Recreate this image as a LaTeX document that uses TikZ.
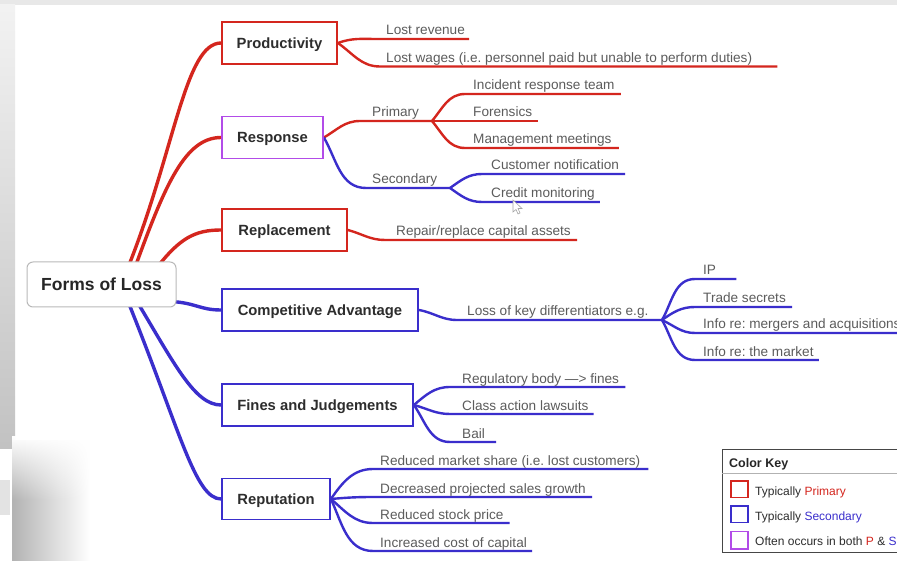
\documentclass[tikz,border=0pt]{standalone}
\usepackage{fontspec}
\setmainfont{Liberation Sans}
\usetikzlibrary{backgrounds,fadings}
\frenchspacing

\definecolor{lossred}{RGB}{212,38,30}
\definecolor{lossblue}{RGB}{58,46,204}
\definecolor{losspurple}{RGB}{178,76,232}
\definecolor{leafgray}{RGB}{92,92,92}
\definecolor{boxtext}{RGB}{45,45,45}

\tikzset{
  rootbox/.style={draw=gray!55, line width=1pt, rounded corners=6pt, fill=white,
    minimum width=149pt, minimum height=45pt, inner sep=0pt,
    text height=12.6pt, text depth=0pt,
    font=\fontsize{17.5}{20}\selectfont\bfseries, text=black!85},
  topic/.style={draw=#1, line width=1.8pt, fill=white, minimum height=42pt,
    inner sep=0pt, text height=10.7pt, text depth=0pt,
    font=\fontsize{14.8}{17}\selectfont\bfseries, text=boxtext},
  leaf/.style={anchor=base west, inner sep=0pt,
    font=\fontsize{13.6}{16}\selectfont, text=leafgray},
  keytext/.style={anchor=base west, inner sep=0pt,
    font=\fontsize{12}{14}\selectfont, text=boxtext},
  trunk/.style={draw=#1, line width=3.4pt},
  twig/.style={draw=#1, line width=2.4pt},
  keysquare/.style={draw=#1, line width=1.7pt},
}

\begin{document}
\begin{tikzpicture}[x=1pt,y=1pt]
\clip (0,0) rectangle (897,-561);

% page backdrop and the grey screen edges
\begin{scope}[on background layer]
  \fill[white] (0,0) rectangle (897,-561);
  \fill[gray!18] (0,0) rectangle (897,-5);
  \shade[top color=gray!10, bottom color=gray!48] (0,-5) rectangle (15,-448);
  \fill[gray!22] (0,-480) rectangle (10,-515);
  \shade[left color=gray!60, right color=white] (12,-440) rectangle (90,-561);
  \fill[white, path fading=south] (12,-436) rectangle (92,-500);
\end{scope}

% central topic
\node[rootbox] (root) at (101.5,-284.5) {Forms of Loss};

% main branches
\node[topic=lossred,    minimum width=115pt] (prod)  at (279.5,-43)   {Productivity};
\node[topic=losspurple, minimum width=101pt] (resp)  at (272.5,-137.5){Response};
\node[topic=lossred,    minimum width=125pt] (repl)  at (284.5,-230)  {Replacement};
\node[topic=lossblue,   minimum width=196pt] (comp)  at (320,-310)    {Competitive Advantage};
\node[topic=lossblue,   minimum width=191pt] (fines) at (317.5,-405)  {Fines and Judgements};
\node[topic=lossblue,   minimum width=108pt, minimum height=41pt] (rep) at (276,-499) {Reputation};

% leaves
\node[leaf] (lrev)  at (386,-35)   {Lost revenue};
\node[leaf] (lwag)  at (386,-62.5) {Lost wages (i.e. personnel paid but unable to perform duties)};

\node[leaf] (pri)   at (372,-117)  {Primary};
\node[leaf] (inc)   at (473,-90)   {Incident response team};
\node[leaf] (fore)  at (473,-117)  {Forensics};
\node[leaf] (mgmt)  at (473,-144)  {Management meetings};
\node[leaf] (sec)   at (372,-184)  {Secondary};
\node[leaf] (cust)  at (491,-170)  {Customer notification};
\node[leaf] (cred)  at (491,-198)  {Credit monitoring};

\node[leaf] (repair) at (396,-236) {Repair/replace capital assets};

\node[leaf] (loss)  at (467,-316)  {Loss of key differentiators e.g.};
\node[leaf] (ip)    at (703,-275)  {IP};
\node[leaf] (trade) at (703,-303)  {Trade secrets};
\node[leaf] (merg)  at (703,-329)  {Info re: mergers and acquisitions};
\node[leaf] (mkt)   at (703,-356)  {Info re: the market};

\node[leaf] (reg)   at (462,-383)  {Regulatory body —> fines};
\node[leaf] (class) at (462,-410)  {Class action lawsuits};
\node[leaf] (bail)  at (462,-438)  {Bail};

\node[leaf] (share) at (380,-465)  {Reduced market share (i.e. lost customers)};
\node[leaf] (sales) at (380,-493)  {Decreased projected sales growth};
\node[leaf] (stock) at (380,-519)  {Reduced stock price};
\node[leaf] (capit) at (380,-547)  {Increased cost of capital};

% fork points
\coordinate (prib)  at (432,-121);
\coordinate (secb)  at (450,-188);
\coordinate (lossb) at (662,-320);

\begin{scope}[on background layer]
  % central topic to main branches
  \draw[trunk=lossred] ([xshift=26.5pt,yshift=-6pt]root.north)
    .. controls (175,-150) and (185,-43) .. (prod.west);
  \draw[trunk=lossred] ([xshift=33.5pt,yshift=-6pt]root.north)
    .. controls (165,-185) and (185,-137.5) .. (resp.west);
  \draw[trunk=lossred] ([xshift=55.5pt,yshift=-6pt]root.north)
    .. controls (180,-238) and (195,-230) .. (repl.west);
  \draw[trunk=lossblue] ([xshift=-5pt,yshift=6pt]root.south east)
    .. controls (196,-303) and (200,-310) .. (comp.west);
  \draw[trunk=lossblue] ([xshift=35.5pt,yshift=6pt]root.south)
    .. controls (175,-365) and (195,-405) .. (fines.west);
  \draw[trunk=lossblue] ([xshift=26.5pt,yshift=6pt]root.south)
    .. controls (180,-430) and (195,-499) .. (rep.west);

  % Productivity
  \draw[twig=lossred] (prod.east) to[out=20,in=180] ([xshift=-9pt,yshift=-4pt]lrev.base west)
    -- ([xshift=4pt,yshift=-4pt]lrev.base east);
  \draw[twig=lossred] (prod.east) to[out=-35,in=180] ([xshift=-6pt,yshift=-4pt]lwag.base west)
    -- ([xshift=25pt,yshift=-4pt]lwag.base east);

  % Response
  \draw[twig=lossred] (resp.east) to[out=30,in=180] ([xshift=-12pt,yshift=-4pt]pri.base west) -- (prib);
  \draw[twig=lossred] (prib) to[out=50,in=180] ([xshift=-8pt,yshift=-4pt]inc.base west)
    -- ([xshift=6pt,yshift=-4pt]inc.base east);
  \draw[twig=lossred] (prib) -- ([xshift=6pt,yshift=-4pt]fore.base east);
  \draw[twig=lossred] (prib) to[out=-50,in=180] ([xshift=-8pt,yshift=-4pt]mgmt.base west)
    -- ([xshift=7pt,yshift=-4pt]mgmt.base east);
  \draw[twig=lossblue] (resp.east) to[out=-60,in=180] ([xshift=-6pt,yshift=-4pt]sec.base west) -- (secb);
  \draw[twig=lossblue] (secb) to[out=35,in=180] ([xshift=-9pt,yshift=-4pt]cust.base west)
    -- ([xshift=6pt,yshift=-4pt]cust.base east);
  \draw[twig=lossblue] (secb) to[out=-35,in=180] ([xshift=-9pt,yshift=-4pt]cred.base west)
    -- ([xshift=5pt,yshift=-4pt]cred.base east);

  % Replacement
  \draw[twig=lossred] (repl.east) to[out=-15,in=180] ([xshift=-11pt,yshift=-4pt]repair.base west)
    -- ([xshift=6pt,yshift=-4pt]repair.base east);

  % Competitive Advantage
  \draw[twig=lossblue] (comp.east) to[out=-10,in=180] ([xshift=-10pt,yshift=-4pt]loss.base west) -- (lossb);
  \draw[twig=lossblue] (lossb) to[out=60,in=180] ([xshift=-8pt,yshift=-4pt]ip.base west)
    -- ([xshift=20pt,yshift=-4pt]ip.base east);
  \draw[twig=lossblue] (lossb) to[out=35,in=180] ([xshift=-8pt,yshift=-4pt]trade.base west)
    -- ([xshift=6pt,yshift=-4pt]trade.base east);
  \draw[twig=lossblue] (lossb) to[out=-25,in=180] ([xshift=-8pt,yshift=-4pt]merg.base west)
    -- ([xshift=30pt,yshift=-4pt]merg.base east);
  \draw[twig=lossblue] (lossb) to[out=-60,in=180] ([xshift=-8pt,yshift=-4pt]mkt.base west)
    -- ([xshift=5pt,yshift=-4pt]mkt.base east);

  % Fines and Judgements
  \draw[twig=lossblue] (fines.east) to[out=40,in=180] ([xshift=-12pt,yshift=-4pt]reg.base west)
    -- ([xshift=6pt,yshift=-4pt]reg.base east);
  \draw[twig=lossblue] (fines.east) to[out=-15,in=180] ([xshift=-12pt,yshift=-4pt]class.base west)
    -- ([xshift=5pt,yshift=-4pt]class.base east);
  \draw[twig=lossblue] (fines.east) to[out=-55,in=180] ([xshift=-12pt,yshift=-4pt]bail.base west)
    -- ([xshift=11pt,yshift=-4pt]bail.base east);

  % Reputation
  \draw[twig=lossblue] (rep.east) to[out=55,in=180] ([xshift=-7pt,yshift=-4pt]share.base west)
    -- ([xshift=8pt,yshift=-4pt]share.base east);
  \draw[twig=lossblue] (rep.east) to[out=5,in=180] ([xshift=-7pt,yshift=-4pt]sales.base west)
    -- ([xshift=6pt,yshift=-4pt]sales.base east);
  \draw[twig=lossblue] (rep.east) to[out=-40,in=180] ([xshift=-7pt,yshift=-4pt]stock.base west)
    -- ([xshift=6pt,yshift=-4pt]stock.base east);
  \draw[twig=lossblue] (rep.east) to[out=-65,in=180] ([xshift=-7pt,yshift=-4pt]capit.base west)
    -- ([xshift=5pt,yshift=-4pt]capit.base east);
\end{scope}

% mouse pointer
\filldraw[fill=white, draw=gray!70, line width=0.6pt]
  (513,-200) -- (513,-212) -- (516,-209.5) -- (518,-214) -- (520,-213) -- (518,-208.5) -- (522,-208.5) -- cycle;

% colour key
\draw[gray!55!black, line width=0.9pt] (722,-449) rectangle (910,-552);
\draw[gray!60, line width=0.8pt] (722,-473) -- (910,-473);
\node[keytext, font=\fontsize{12.5}{14}\selectfont\bfseries, text=black!85] (keyhead) at (729,-467.5) {Color Key};
\draw[keysquare=lossred]    (731,-481) rectangle (748,-497.5);
\draw[keysquare=lossblue]   (731,-506) rectangle (748,-522.5);
\draw[keysquare=losspurple] (731,-531.5) rectangle (748,-549);
\node[keytext] (keyp) at (755,-495.5) {Typically \textcolor{lossred}{Primary}};
\node[keytext] (keys) at (755,-520)   {Typically \textcolor{lossblue}{Secondary}};
\node[keytext] (keyb) at (755,-545)   {Often occurs in both \textcolor{lossred}{P} \& \textcolor{lossblue}{S}};
\end{tikzpicture}
\end{document}
